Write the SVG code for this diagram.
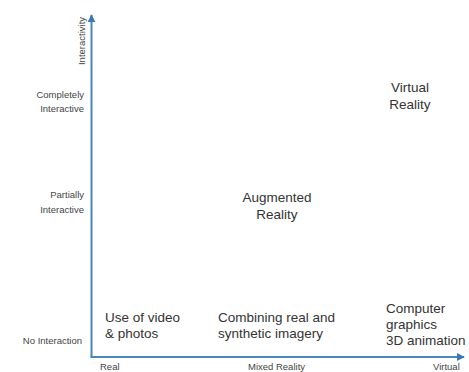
<svg xmlns="http://www.w3.org/2000/svg" width="469" height="372" viewBox="0 0 469 372">
<style>
text{font-family:"Liberation Sans","Open Sans",sans-serif;fill:#333}
.big{font-size:13.5px}
.sm{font-size:9.5px;fill:#444}
.axis{stroke:#4a86c0;stroke-width:2;fill:none}
</style>
<defs>
<marker id="ah" viewBox="0 0 10 10" refX="9" refY="5" markerWidth="4" markerHeight="4" orient="auto" markerUnits="strokeWidth">
<path d="M0,0 L10,5 L0,10 z" fill="#3a78b8"/>
</marker>
</defs>
<rect width="469" height="372" fill="#fff"/>
<g id="connectors">
<line class="axis" x1="91.5" y1="357" x2="91.5" y2="15" marker-end="url(#ah)"/>
<line class="axis" x1="90.5" y1="357" x2="464" y2="357" marker-end="url(#ah)"/>
</g>
<g id="axis-labels">
<text class="sm" transform="translate(85,41) rotate(-90)" text-anchor="middle">Interactivity</text>
<text class="sm" x="84" y="98" text-anchor="end">Completely</text>
<text class="sm" x="84" y="112" text-anchor="end">Interactive</text>
<text class="sm" x="84" y="198" text-anchor="end">Partially</text>
<text class="sm" x="84" y="213" text-anchor="end">Interactive</text>
<text class="sm" x="82" y="344" text-anchor="end">No Interaction</text>
<text class="sm" x="100" y="370">Real</text>
<text class="sm" x="248" y="370">Mixed Reality</text>
<text class="sm" x="433" y="370">Virtual</text>
</g>
<g id="video">
<text class="big" x="105" y="322">Use of video</text>
<text class="big" x="105" y="338">&amp; photos</text>
</g>
<g id="combining">
<text class="big" x="218" y="322">Combining real and</text>
<text class="big" x="218" y="338">synthetic imagery</text>
</g>
<g id="computer">
<text class="big" x="386" y="313">Computer</text>
<text class="big" x="386" y="329">graphics</text>
<text class="big" x="386" y="345">3D animation</text>
</g>
<g id="augmented">
<text class="big" x="277" y="202" text-anchor="middle">Augmented</text>
<text class="big" x="277" y="219" text-anchor="middle">Reality</text>
</g>
<g id="virtual">
<text class="big" x="410" y="92" text-anchor="middle">Virtual</text>
<text class="big" x="410" y="109" text-anchor="middle">Reality</text>
</g>
</svg>
